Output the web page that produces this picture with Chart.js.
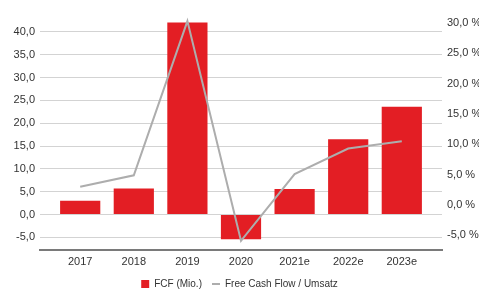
<!DOCTYPE html>
<html>
<head>
<meta charset="utf-8">
<script src="https://cdn.jsdelivr.net/npm/chart.js@4"></script>
<style>
  html, body { margin: 0; padding: 0; background: #fff; }
  #wrap { width: 479px; height: 289px; }
</style>
</head>
<body>
<div id="wrap"><canvas id="fcfChart" width="479" height="289"></canvas></div>
<script>
// Daten
const categories = ["2017", "2018", "2019", "2020", "2021e", "2022e", "2023e"];
const fcfMio = [3.0, 5.7, 42.1, -5.4, 5.6, 16.5, 23.6];
const fcfToSales = [3.0, 4.9, 30.3, -5.9, 5.1, 9.3, 10.5];

const toPoints = (arr) => arr.map((v, i) => ({ x: i, y: v }));

const textColor = "#333333";
const axisFont = { family: "'Liberation Sans', Arial, sans-serif", size: 11 };

new Chart(document.getElementById("fcfChart").getContext("2d"), {
  data: {
    datasets: [
      {
        type: "bar",
        label: "FCF (Mio.)",
        data: toPoints(fcfMio),
        backgroundColor: "#e31e24",
        borderWidth: 0,
        barPercentage: 0.75,
        categoryPercentage: 1,
        yAxisID: "y",
        pointStyle: "rect",
        order: 1,
      },
      {
        type: "line",
        label: "Free Cash Flow / Umsatz",
        data: toPoints(fcfToSales),
        borderColor: "#adadad",
        borderWidth: 2,
        pointRadius: 0,
        pointStyle: "line",
        pointBorderColor: "#adadad",
        pointBorderWidth: 2,
        tension: 0,
        yAxisID: "y1",
        order: 0,
      },
    ],
  },
  options: {
    responsive: false,
    animation: false,
    layout: { padding: { top: 12 } },
    plugins: {
      tooltip: { enabled: false },
      legend: {
        position: "bottom",
        maxHeight: 20,
        labels: {
          usePointStyle: true,
          pointStyleWidth: 8,
          boxWidth: 8,
          boxHeight: 8,
          padding: 10,
          color: textColor,
          font: { family: "'Liberation Sans', Arial, sans-serif", size: 10 },
          sort: (a, b) => a.datasetIndex - b.datasetIndex,
        },
      },
    },
    scales: {
      x: {
        type: "linear",
        offset: false,
        min: -0.75,
        max: 6.75,
        afterFit: (s) => { s.height = 19; },
        grid: { display: false, drawTicks: false, offset: false },
        border: { display: true, color: "#7a7a7a", width: 2 },
        ticks: {
          stepSize: 1,
          includeBounds: false,
          autoSkip: false,
          maxRotation: 0,
          padding: 5,
          color: textColor,
          font: axisFont,
          callback: (v) => categories[v],
        },
      },
      y: {
        position: "left",
        min: -7.78,
        max: 44.38,
        afterFit: (s) => { s.width = 40; },
        grid: { color: "#d3d3d3", lineWidth: 1, drawTicks: false },
        border: { display: false },
        ticks: {
          stepSize: 5,
          includeBounds: false,
          padding: 5,
          color: textColor,
          font: axisFont,
          callback: (v) => v.toFixed(1).replace(".", ","),
        },
      },
      y1: {
        position: "right",
        min: -7.41,
        max: 31.8,
        afterFit: (s) => { s.width = 37; },
        grid: { display: false, drawTicks: false },
        border: { display: false },
        ticks: {
          stepSize: 5,
          includeBounds: false,
          padding: 5,
          color: textColor,
          font: axisFont,
          callback: (v) => v.toFixed(1).replace(".", ",") + " %",
        },
      },
    },
  },
});
</script>
</body>
</html>
